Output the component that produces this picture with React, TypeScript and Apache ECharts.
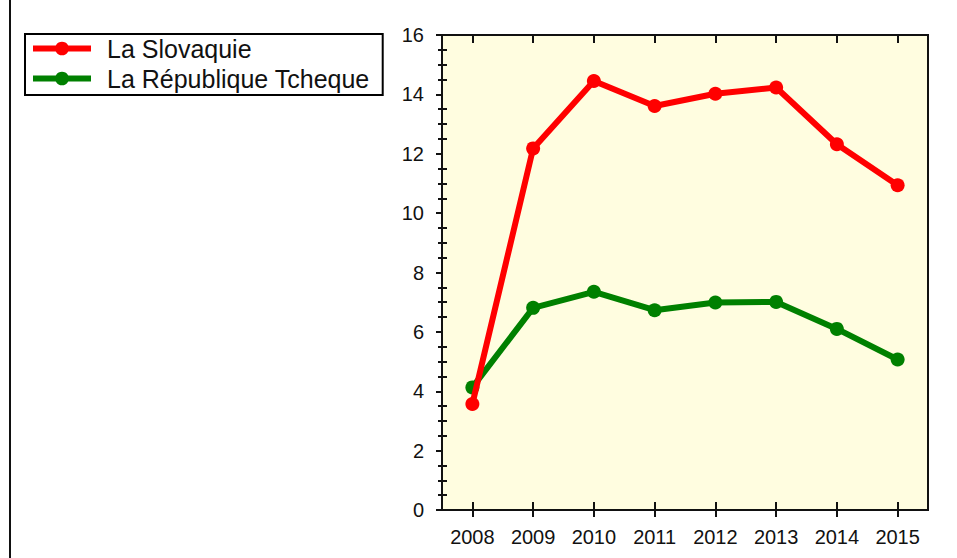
import React, { useEffect, useRef } from "react";
import * as echarts from "echarts";

const years = ["2008", "2009", "2010", "2011", "2012", "2013", "2014", "2015"];
const slovakia = [3.57, 12.18, 14.45, 13.61, 14.02, 14.23, 12.32, 10.94];
const czech = [4.13, 6.81, 7.35, 6.73, 6.99, 7.01, 6.1, 5.07];
const seriesNames = ["La Slovaquie", "La République Tcheque"];

export default function App() {
  const ref = useRef<HTMLDivElement>(null);
  useEffect(() => {
    if (!ref.current) return;
    const chart = echarts.init(ref.current, null, { renderer: "svg" });
    const font = "Liberation Sans, Arial, sans-serif";
    chart.setOption({
      animation: false,
      backgroundColor: "#fff",
      textStyle: { fontFamily: font },
      grid: {
        left: 442,
        top: 35,
        width: 486,
        height: 475,
        show: true,
        backgroundColor: "#FFFDE0",
        borderColor: "#111",
        borderWidth: 2,
      },
      legend: {
        data: seriesNames,
        orient: "vertical",
        left: 25,
        top: 34,
        itemWidth: 58,
        itemHeight: 17,
        itemGap: 5,
        padding: [2, 13, 4, 5],
        borderColor: "#000",
        borderWidth: 2,
        backgroundColor: "#fff",
        lineStyle: { width: 6 },
        textStyle: {
          fontFamily: font,
          fontSize: 25,
          color: "#111",
          padding: [0, 0, 0, 11],
        },
      },
      xAxis: [
        {
          type: "category",
          data: years,
          position: "bottom",
          boundaryGap: true,
          axisLine: { show: true, lineStyle: { color: "#111", width: 2 } },
          axisTick: { show: true, alignWithLabel: true, length: 7, lineStyle: { color: "#111", width: 2 } },
          axisLabel: { fontSize: 20, color: "#111", margin: 17, fontFamily: font },
          splitLine: { show: false },
        },
        {
          type: "category",
          data: years,
          position: "bottom",
          boundaryGap: true,
          axisLine: { show: false },
          axisTick: { show: true, inside: true, alignWithLabel: true, length: 8, lineStyle: { color: "#111", width: 2 } },
          axisLabel: { show: false },
          splitLine: { show: false },
        },
        {
          type: "category",
          data: years,
          position: "top",
          boundaryGap: true,
          axisLine: { show: false },
          axisTick: { show: true, inside: true, alignWithLabel: true, length: 8, lineStyle: { color: "#111", width: 2 } },
          axisLabel: { show: false },
          splitLine: { show: false },
        },
      ],
      yAxis: [
        {
          type: "value",
          min: 0,
          max: 16,
          interval: 2,
          position: "left",
          axisLine: { show: true, lineStyle: { color: "#111", width: 2 } },
          axisTick: { show: true, length: 6, lineStyle: { color: "#111", width: 2 } },
          minorTick: { show: true, splitNumber: 4, length: 4, lineStyle: { color: "#111", width: 2 } },
          axisLabel: { fontSize: 20, color: "#111", margin: 18, fontFamily: font },
          splitLine: { show: false },
        },
        {
          type: "value",
          min: 0,
          max: 16,
          interval: 2,
          position: "left",
          axisLine: { show: false },
          axisTick: { show: false, inside: true },
          minorTick: { show: true, splitNumber: 4, length: 5, lineStyle: { color: "#111", width: 2 } },
          axisLabel: { show: false },
          splitLine: { show: false },
        },
      ],
      series: [
        {
          name: seriesNames[1],
          type: "line",
          data: czech,
          z: 2,
          symbol: "circle",
          symbolSize: 14,
          color: "#008000",
          lineStyle: { width: 6, color: "#008000" },
          itemStyle: { color: "#008000" },
        },
        {
          name: seriesNames[0],
          type: "line",
          data: slovakia,
          z: 3,
          symbol: "circle",
          symbolSize: 14,
          color: "#FF0000",
          lineStyle: { width: 6, color: "#FF0000" },
          itemStyle: { color: "#FF0000" },
        },
      ],
      graphic: [
        {
          type: "rect",
          shape: { x: 9, y: 0, width: 2, height: 558 },
          style: { fill: "#111" },
        },
      ],
    });
    return () => chart.dispose();
  }, []);
  return (
    <div
      ref={ref}
      style={{ position: "fixed", left: 0, top: 0, width: 957, height: 558 }}
    />
  );
}
